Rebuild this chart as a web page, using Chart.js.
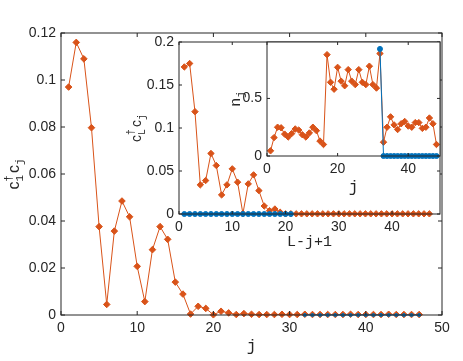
<!DOCTYPE html>
<html><head><meta charset="utf-8">
<script src="https://cdn.jsdelivr.net/npm/chart.js@4/dist/chart.umd.min.js"></script>
<style>
html,body{margin:0;padding:0;background:#fff;}
#wrap{position:relative;width:463px;height:361px;overflow:hidden;}
canvas{position:absolute;left:0;top:0;}
</style></head><body>
<div id="wrap">
<canvas id="c0" width="463" height="361"></canvas>
<canvas id="c1" width="463" height="361"></canvas>
<canvas id="c2" width="463" height="361"></canvas>
</div>
<script>
// ---------- DATA ----------
const mainJ = [1,2,3,4,5,6,7,8,9,10,11,12,13,14,15,16,17,18,19,20,21,22,23,24,25,26,27,28,29,30,31,32,33,34,35,36,37,38,39,40,41,42,43,44,45,46,47];
const mainCorr = [0.097,0.116,0.109,0.0797,0.0376,0.0045,0.0357,0.0485,0.0418,0.0207,0.0057,0.0278,0.0376,0.0322,0.014,0.0089,0.0004,0.0037,0.0028,0.0001,0.0016,0.0009,0.0002,0.0006,0.0003,0.0002,0.0002,0.0002,0.0003,0.0002,0.0002,0.0003,0.0002,0.0002,0.0002,0.0002,0.0002,0.0003,0.0002,0.0002,0.0002,0.0002,0.0003,0.0002,0.0002,0.0002,0.0002];
const mainBlueJ = [32,33,34,35,36,37,38,39,40,41,42,43,44,45,46,47];
const mainBlue = [0,0,0,0,0,0,0,0,0,0,0,0,0,0,0,0];
const mainXTicks = [0,10,20,30,40,50];
const mainYTicks = [0,0.02,0.04,0.06,0.08,0.1,0.12];

const in1X = [1,2,3,4,5,6,7,8,9,10,11,12,13,14,15,16,17,18,19,20,21,22,23,24,25,26,27,28,29,30,31,32,33,34,35,36,37,38,39,40,41,42,43,44,45,46,47];
const in1Corr = [0.171,0.175,0.119,0.0339,0.0389,0.0704,0.0564,0.0222,0.0339,0.0525,0.037,0.0004,0.035,0.0455,0.0272,0.0093,0.0039,0.0058,0.002,0.0002,0.0003,0.0002,0.0002,0.0002,0.0002,0.0002,0.0002,0.0002,0.0002,0.0002,0.0002,0.0002,0.0002,0.0002,0.0002,0.0002,0.0002,0.0002,0.0002,0.0002,0.0002,0.0002,0.0002,0.0002,0.0002,0.0002,0.0002];
const in1BlueX = [1,2,3,4,5,6,7,8,9,10,11,12,13,14,15,16,17,18,19,20,21];
const in1Blue = [0,0,0,0,0,0,0,0,0,0,0,0,0,0,0,0,0,0,0,0,0];
const in1XTicks = [0,10,20,30,40];
const in1YTicks = [0,0.05,0.1,0.15,0.2];

const in2J = [1,2,3,4,5,6,7,8,9,10,11,12,13,14,15,16,17,18,19,20,21,22,23,24,25,26,27,28,29,30,31,32,33,34,35,36,37,38,39,40,41,42,43,44,45,46,47,48];
const in2N = [0.045,0.16,0.25,0.245,0.19,0.165,0.195,0.235,0.225,0.185,0.165,0.2,0.25,0.22,0.13,0.1,
              0.88,0.64,0.58,0.77,0.65,0.61,0.75,0.65,0.62,0.75,0.64,0.62,0.78,0.62,0.59,0.89,
              0.12,0.25,0.34,0.27,0.23,0.28,0.30,0.26,0.25,0.29,0.29,0.24,0.25,0.33,0.28,0.1];
const in2BlueJ = [32,33,34,35,36,37,38,39,40,41,42,43,44,45,46,47,48];
const in2Blue = [0.93,0,0,0,0,0,0,0,0,0,0,0,0,0,0,0,0];
const in2XTicks = [0,20,40];
const in2YTicks = [0,0.5];

// ---------- STYLE ----------
const ORANGE = '#D95319', BLUE = '#0072BD', AX = '#262626';
const SANS = '"Liberation Sans", Arial, sans-serif';
const MONO = '"Liberation Mono", "DejaVu Sans Mono", monospace';

function pts(xs, ys){ return xs.map((x,i)=>({x:x, y:ys[i]})); }
function fmt(v){ return String(+(+v).toFixed(3)); }

function richText(ctx, cx, cy, rot, segs){
  ctx.save(); ctx.translate(cx, cy); ctx.rotate(rot);
  ctx.fillStyle = AX; ctx.textBaseline = 'middle'; ctx.textAlign = 'left';
  let x = 0, stackW = 0; const pos = [];
  for (const g of segs){
    ctx.font = g.s + 'px ' + g.f; g.w = ctx.measureText(g.t).width;
    pos.push(x);
    if (g.stack){ stackW = Math.max(stackW, g.w); }
    else { x += Math.max(g.w, stackW) + (g.gap||0); stackW = 0; }
  }
  const off = -x/2;
  segs.forEach((g,i)=>{ ctx.font = g.s + 'px ' + g.f; ctx.fillText(g.t, off + pos[i], g.dy||0); });
  ctx.restore();
}

const boxPlugin = {
  id: 'box',
  beforeDraw(chart, args, o){
    if (o.fill){ const a = chart.chartArea, c = chart.ctx; c.save(); c.fillStyle = '#fff'; c.fillRect(a.left, a.top, a.right-a.left, a.bottom-a.top); c.restore(); }
  },
  afterDraw(chart, args, o){
    const a = chart.chartArea, c = chart.ctx, xs = chart.scales.x, ys = chart.scales.y, L = o.tick || 4;
    c.save(); c.strokeStyle = AX; c.lineWidth = 1;
    c.strokeRect(a.left, a.top, a.right-a.left, a.bottom-a.top);
    c.beginPath();
    xs.ticks.forEach(t=>{ const px = xs.getPixelForValue(t.value);
      c.moveTo(px, a.bottom); c.lineTo(px, a.bottom-L); c.moveTo(px, a.top); c.lineTo(px, a.top+L); });
    ys.ticks.forEach(t=>{ const py = ys.getPixelForValue(t.value);
      c.moveTo(a.left, py); c.lineTo(a.left+L, py); c.moveTo(a.right, py); c.lineTo(a.right-L, py); });
    c.stroke(); c.restore();
    (o.titles||[]).forEach(tt=>{
      const cx = tt.axis==='x' ? (a.left+a.right)/2 : a.left + tt.off;
      const cy = tt.axis==='x' ? a.bottom + tt.off : (a.top+a.bottom)/2;
      richText(c, cx, cy, tt.axis==='x' ? 0 : -Math.PI/2, tt.segs);
    });
  }
};

function makeScale(axis, min, max, tickVals, size, fit){
  return {
    type: 'linear', min: min, max: max,
    afterBuildTicks: s => { s.ticks = tickVals.map(v=>({value:v})); },
    afterFit: s => { if (axis==='x') s.height = fit; else s.width = fit; },
    grid: { display: false, drawTicks: false },
    border: { display: false },
    ticks: { autoSkip: false, maxRotation: 0, padding: 5, color: AX,
             font: { family: SANS, size: size }, callback: v => fmt(v) }
  };
}

function lineDS(data, color, style, r){
  return { data: data, borderColor: color, backgroundColor: color, borderWidth: 1,
           pointStyle: style, pointRadius: r, pointBorderWidth: 1, pointBorderColor: color,
           pointBackgroundColor: color, tension: 0, clip: false };
}

function makeChart(id, opts){
  return new Chart(document.getElementById(id), {
    type: 'line',
    data: { datasets: opts.datasets },
    options: {
      responsive: false, animation: false, events: [],
      layout: { padding: opts.pad },
      scales: {
        x: makeScale('x', opts.xmin, opts.xmax, opts.xt, opts.fs, opts.xfit),
        y: makeScale('y', opts.ymin, opts.ymax, opts.yt, opts.fs, opts.yfit)
      },
      plugins: { legend: { display: false }, tooltip: { enabled: false },
                 box: { fill: opts.fill, tick: opts.tick, titles: opts.titles } }
    },
    plugins: [boxPlugin]
  });
}

const cSeg = (s, sub) => [
  { t: 'c', f: SANS, s: s },
  { t: '\u2020', f: SANS, s: Math.round(s*0.7), dy: -6, stack: true },
  { t: sub, f: MONO, s: Math.round(s*0.7), dy: 5, gap: 2 },
  { t: 'c', f: SANS, s: s },
  { t: 'j', f: MONO, s: Math.round(s*0.7), dy: 5 }
];

// Main axes
makeChart('c0', {
  datasets: [ lineDS(pts(mainBlueJ, mainBlue), BLUE, 'circle', 1.5), lineDS(pts(mainJ, mainCorr), ORANGE, 'rectRot', 3.3) ],
  pad: { top: 33, right: 21, left: 0, bottom: 0 },
  xmin: 0, xmax: 50, xt: mainXTicks, ymin: 0, ymax: 0.12, yt: mainYTicks,
  fs: 14, xfit: 46, yfit: 61, fill: false, tick: 4,
  titles: [ { axis: 'x', off: 32, segs: [ { t: 'j', f: MONO, s: 16 } ] },
            { axis: 'y', off: -46, segs: cSeg(16, '1') } ]
});

// Inset 1
makeChart('c1', {
  datasets: [ lineDS(pts(in1BlueX, in1Blue), BLUE, 'circle', 2.5), lineDS(pts(in1X, in1Corr), ORANGE, 'rectRot', 3.2) ],
  pad: { top: 42, right: 23, left: 0, bottom: 0 },
  xmin: 0, xmax: 49, xt: in1XTicks, ymin: 0, ymax: 0.2, yt: in1YTicks,
  fs: 14, xfit: 147, yfit: 179, fill: true, tick: 3,
  titles: [ { axis: 'x', off: 28, segs: [ { t: 'L-j+1', f: MONO, s: 15 } ] },
            { axis: 'y', off: -42, segs: cSeg(14, 'L') } ]
});

// Inset 2
makeChart('c2', {
  datasets: [ lineDS(pts(in2BlueJ, in2Blue), BLUE, 'circle', 2.5), lineDS(pts(in2J, in2N), ORANGE, 'rectRot', 3.2) ],
  pad: { top: 42, right: 23, left: 0, bottom: 0 },
  xmin: 0, xmax: 49, xt: in2XTicks, ymin: 0, ymax: 0.99, yt: in2YTicks,
  fs: 14, xfit: 205, yfit: 267, fill: true, tick: 3,
  titles: [ { axis: 'x', off: 32, segs: [ { t: 'j', f: MONO, s: 16 } ] },
            { axis: 'y', off: -31, segs: [ { t: 'n', f: MONO, s: 15 }, { t: 'j', f: MONO, s: 11, dy: 5 } ] } ]
});
</script>
</body></html>
